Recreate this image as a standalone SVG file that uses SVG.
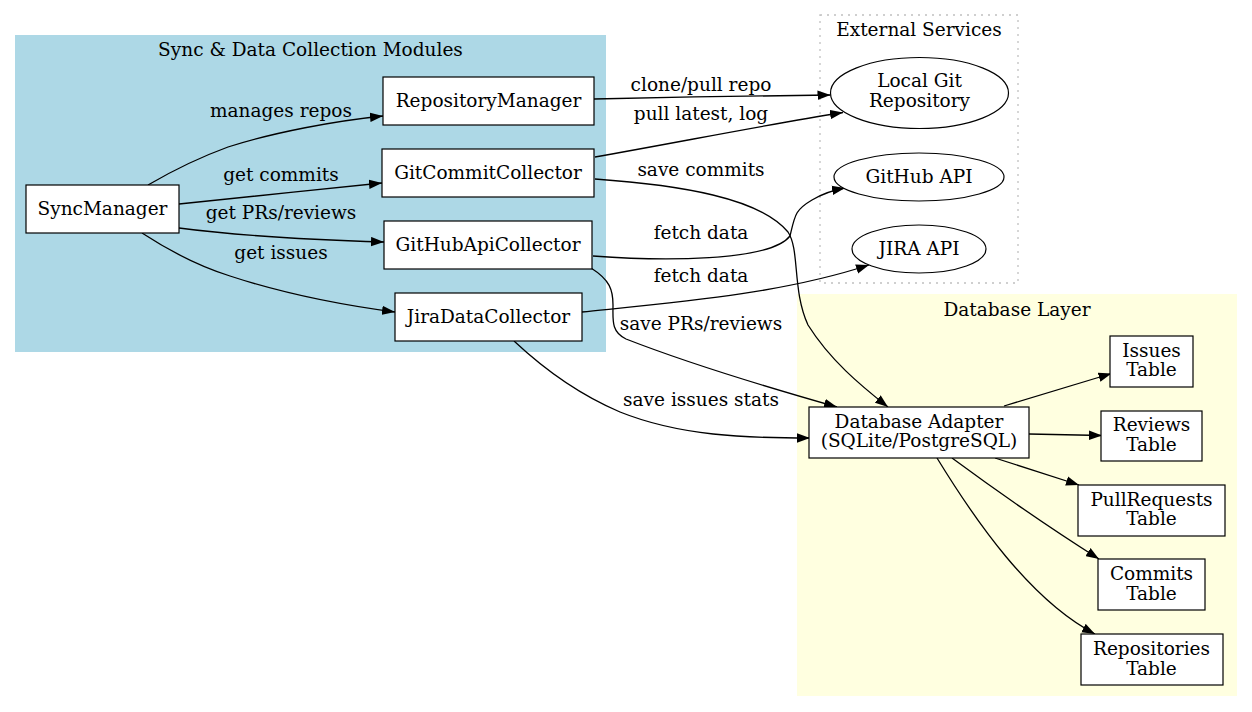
<svg xmlns="http://www.w3.org/2000/svg" width="1252" height="712" viewBox="0 0 1252 712">
<style>
text{font-family:"DejaVu Serif","Liberation Serif",serif;font-size:18.5px;fill:#000;text-anchor:middle}
.n{fill:#fff;stroke:#000;stroke-width:1.2}
.e{fill:none;stroke:#000;stroke-width:1.3}
</style>
<defs>
<marker id="a" viewBox="0 0 13 10" refX="13" refY="5" markerWidth="13" markerHeight="10" markerUnits="userSpaceOnUse" orient="auto">
<path d="M0,0.3 L13,5 L0,9.7 Z" fill="#000"/>
</marker>
</defs>
<rect width="1252" height="712" fill="#fff"/>
<g id="cluster_sync">
<rect x="15" y="35" width="591" height="317" fill="#add8e6"/>
<text x="310.5" y="56">Sync &amp; Data Collection Modules</text>
</g>
<g id="cluster_ext">
<rect x="820" y="15" width="198" height="268" fill="none" stroke="#c0c0c0" stroke-width="1.3" stroke-dasharray="2,5"/>
<text x="919" y="36">External Services</text>
</g>
<g id="cluster_db">
<rect x="797" y="294" width="440" height="402" fill="#ffffe0"/>
<text x="1017" y="316">Database Layer</text>
</g>
<g id="edges">
<path class="e" marker-end="url(#a)" d="M148,185 C172,171 195,159 228,147 C275,132 335,121 383,116"/>
<text x="281" y="117">manages repos</text>
<path class="e" marker-end="url(#a)" d="M179,204 C232,199 320,189 382,183"/>
<text x="281" y="181">get commits</text>
<path class="e" marker-end="url(#a)" d="M179,228 C232,235 320,240 384,242"/>
<text x="281" y="219">get PRs/reviews</text>
<path class="e" marker-end="url(#a)" d="M142,233 C168,250 198,266 230,276 C282,293 342,305 395,312"/>
<text x="281" y="259">get issues</text>
<path class="e" marker-end="url(#a)" d="M594,99 C670,97 760,96 830.5,95"/>
<text x="701" y="91">clone/pull repo</text>
<path class="e" marker-end="url(#a)" d="M595,157 C680,142 770,124 843,112.5"/>
<text x="701" y="120">pull latest, log</text>
<path class="e" marker-end="url(#a)" d="M595,179 C680,185 760,198 788,232 C800,250 792,290 808,325 C830,360 860,385 888,407"/>
<text x="701" y="176">save commits</text>
<path class="e" marker-end="url(#a)" d="M593,256 C660,261 770,262 790,236 C795,215 795,210 812,200 C822,194 834,190 845,188"/>
<text x="701" y="239">fetch data</text>
<path class="e" marker-end="url(#a)" d="M582,312 C680,302 780,294 869,265"/>
<text x="701" y="282">fetch data</text>
<path class="e" marker-end="url(#a)" d="M591,268 C610,280 613,290 613,305 C613,320 611,332 626,339 C690,364 770,388 837,407"/>
<text x="701" y="330">save PRs/reviews</text>
<path class="e" marker-end="url(#a)" d="M514,341 C545,370 580,395 620,412 C680,436 745,438 810,438"/>
<text x="701" y="406">save issues stats</text>
<path class="e" marker-end="url(#a)" d="M1004,406 L1111.5,373.5"/>
<path class="e" marker-end="url(#a)" d="M1029,434 L1102,435.5"/>
<path class="e" marker-end="url(#a)" d="M995,458 L1079,485"/>
<path class="e" marker-end="url(#a)" d="M952,458 C990,486 1050,528 1099,559"/>
<path class="e" marker-end="url(#a)" d="M937,458 C975,520 1030,600 1095,634"/>
</g>
<g id="SyncManager"><rect class="n" x="26" y="185" width="153" height="48"/><text x="102.5" y="215">SyncManager</text></g>
<g id="RepositoryManager"><rect class="n" x="383" y="77" width="211" height="48"/><text x="488.5" y="107">RepositoryManager</text></g>
<g id="GitCommitCollector"><rect class="n" x="382" y="149" width="212" height="48"/><text x="488" y="179">GitCommitCollector</text></g>
<g id="GitHubApiCollector"><rect class="n" x="384" y="221" width="208" height="48"/><text x="488" y="251">GitHubApiCollector</text></g>
<g id="JiraDataCollector"><rect class="n" x="395" y="293" width="187" height="48"/><text x="488.5" y="323">JiraDataCollector</text></g>
<g id="LocalGit"><ellipse class="n" cx="919.5" cy="93" rx="89" ry="35.5"/><text x="919.5" y="87">Local Git</text><text x="919.5" y="107">Repository</text></g>
<g id="GitHubAPI"><ellipse class="n" cx="919" cy="177" rx="85" ry="24"/><text x="919" y="183">GitHub API</text></g>
<g id="JIRAAPI"><ellipse class="n" cx="919" cy="249" rx="67" ry="24"/><text x="919" y="255">JIRA API</text></g>
<g id="DatabaseAdapter"><rect class="n" x="809" y="407" width="220" height="51"/><text x="919" y="427.5">Database Adapter</text><text x="919" y="447">(SQLite/PostgreSQL)</text></g>
<g id="IssuesTable"><rect class="n" x="1110" y="336" width="83" height="51"/><text x="1151.5" y="356.5">Issues</text><text x="1151.5" y="376">Table</text></g>
<g id="ReviewsTable"><rect class="n" x="1101" y="411" width="101" height="50"/><text x="1151.5" y="431">Reviews</text><text x="1151.5" y="451">Table</text></g>
<g id="PullRequestsTable"><rect class="n" x="1078" y="485" width="147" height="51"/><text x="1151.5" y="505.5">PullRequests</text><text x="1151.5" y="525">Table</text></g>
<g id="CommitsTable"><rect class="n" x="1098" y="559" width="107" height="51"/><text x="1151.5" y="580">Commits</text><text x="1151.5" y="599.5">Table</text></g>
<g id="RepositoriesTable"><rect class="n" x="1081" y="634" width="142" height="51"/><text x="1151.5" y="655">Repositories</text><text x="1151.5" y="674.5">Table</text></g>
</svg>
